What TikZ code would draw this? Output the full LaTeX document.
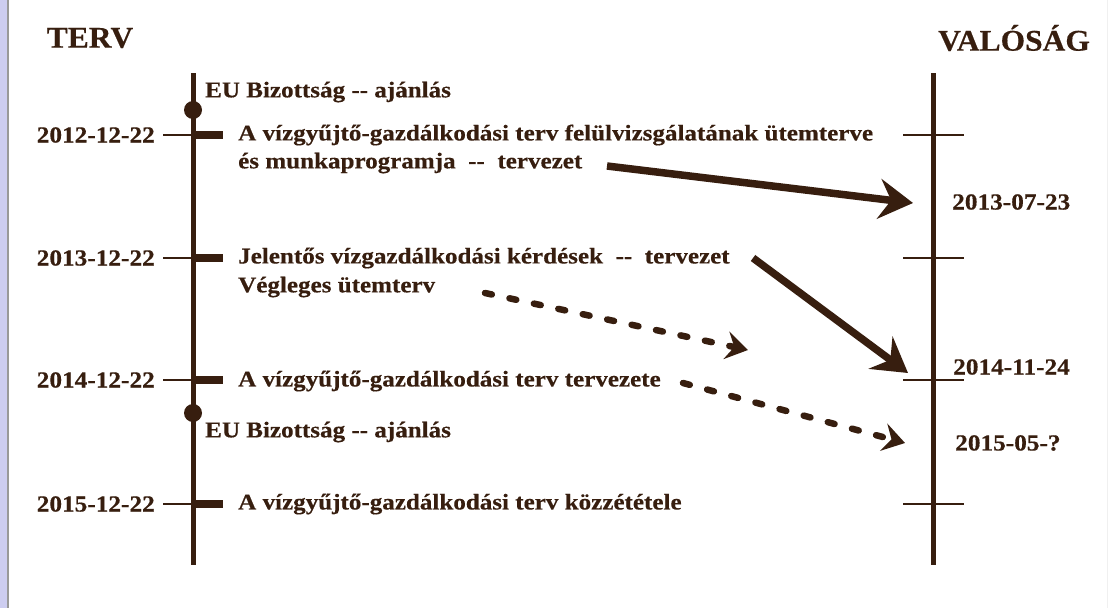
\documentclass[tikz,border=0pt]{standalone}
\usepackage{fontspec}
\setmainfont{Liberation Serif}
\newfontfamily\itemfont{Liberation Serif}[FakeStretch=1.114,FakeBold=0.4]
\newfontfamily\datefont{Liberation Serif}[FakeStretch=1.10,FakeBold=0.4]
\newfontfamily\titlefont{Liberation Serif}[FakeStretch=1.05,FakeBold=0.4]
\usetikzlibrary{arrows.meta}
\definecolor{brn}{RGB}{55,30,15}
\definecolor{lav}{RGB}{205,205,240}
\tikzset{
  x=1pt,y=-1pt,
  title/.style={font=\titlefont\fontsize{30}{30}\selectfont\bfseries,text=brn,inner sep=0pt},
  datel/.style={font=\datefont\fontsize{23}{23}\selectfont\bfseries,text=brn,inner sep=0pt},
  item/.style={font=\itemfont\fontsize{22.5}{22.5}\selectfont\bfseries,text=brn,inner sep=0pt,anchor=west},
  axis/.style={draw=brn,line width=5pt},
  thintick/.style={draw=brn,line width=2pt},
  thickbar/.style={draw=brn,line width=8pt},
  evdot/.style={circle,fill=brn,inner sep=0pt,minimum size=18pt},
  solidarr/.style={draw=brn,line width=7.5pt,-{Stealth[length=34pt,width=40pt,inset=12pt]}},
  dasharr/.style={draw=brn,line width=6.5pt,line cap=round,dash pattern=on 7pt off 18pt,-{Stealth[length=22pt,width=28pt,inset=8pt]}},
}
\begin{document}
\begin{tikzpicture}
\useasboundingbox (0,0) rectangle (1115,608);
\fill[white] (0,0) rectangle (1115,608);
\fill[lav] (0,0) rectangle (7,608);
\draw[gray!80,line width=2pt] (8,0) -- (8,608);
\draw[gray!12,line width=1pt] (1107,0) -- (1107,608);
% titles
\node[title] (terv) at (90,38) {TERV};
\node[title] (val) at (1014,38) {VALÓSÁG};
% left axis
\coordinate (LT) at (193,73);
\coordinate (LB) at (193,565);
\draw[axis] (LT) -- (LB);
% right axis
\coordinate (RT) at (933,73);
\coordinate (RB) at (933,565);
\draw[axis] (RT) -- (RB);
% dots
\node[evdot] (d1) at (193,110) {};
\node[evdot] (d2) at (193,413) {};
\node[item] (eu1) at (205,92) {EU Bizottság -\kern0pt- ajánlás};
\node[item] (eu2) at (205,432) {EU Bizottság -\kern0pt- ajánlás};
% left ticks
\foreach \n/\y/\d in {a/135/2012-12-22,b/258/2013-12-22,c/380/2014-12-22,e/504/2015-12-22}{
  \coordinate (tl\n) at (163,\y);
  \coordinate (tm\n) at (193,\y);
  \coordinate (tr\n) at (223,\y);
  \draw[thintick] (tl\n) -- (tm\n);
  \draw[thickbar] (tm\n) -- (tr\n);
  \node[datel,anchor=east] (dl\n) at (155,\y) {\d};
  \coordinate (rl\n) at (903,\y);
  \coordinate (rr\n) at (964,\y);
  \draw[thintick] (rl\n) -- (rr\n);
}
% items
\node[item] (i1a) at (238,135) {A vízgyűjtő-gazdálkodási terv felülvizsgálatának ütemterve};
\node[item] (i1b) at (238,163) {és munkaprogramja\ \ -\kern0pt-\ \ tervezet};
\node[item] (i2a) at (238,258) {Jelentős vízgazdálkodási kérdések\ \ -\kern0pt-\ \ tervezet};
\node[item] (i2b) at (238,287) {Végleges ütemterv};
\node[item] (i3) at (238,381) {A vízgyűjtő-gazdálkodási terv tervezete};
\node[item] (i4) at (238,504) {A vízgyűjtő-gazdálkodási terv közzététele};
% right labels
\node[datel,anchor=west] (r1) at (952,202) {2013-07-23};
\node[datel,anchor=west] (r2) at (953,367) {2014-11-24};
\node[datel,anchor=west] (r3) at (955,443) {2015-05-?};
% arrows
\coordinate (a1s) at (607,166);
\coordinate (a1e) at (913,203);
\draw[solidarr] (a1s) -- (a1e);
\coordinate (a2s) at (753,258);
\coordinate (a2e) at (908,373);
\draw[solidarr] (a2s) -- (a2e);
\coordinate (a3s) at (485,293);
\coordinate (a3e) at (748,350);
\draw[dasharr] (a3s) -- (a3e);
\coordinate (a4s) at (683,383);
\coordinate (a4e) at (905,443);
\draw[dasharr] (a4s) -- (a4e);
\end{tikzpicture}
\end{document}
